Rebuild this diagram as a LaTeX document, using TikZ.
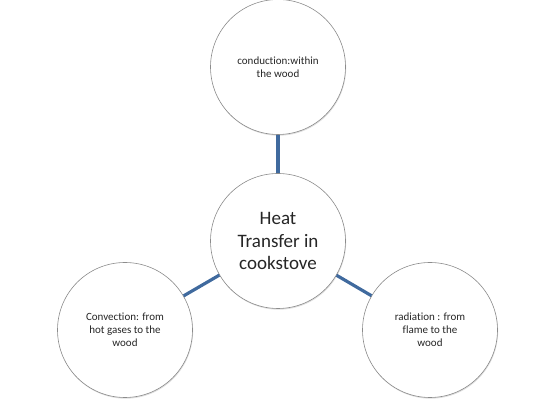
\documentclass[tikz,border=0pt]{standalone}
\usepackage{fontspec}
\setmainfont{Carlito}[Ligatures=NoCommon]
\usetikzlibrary{shapes, positioning, shadows, calc}
\definecolor{linkblue}{RGB}{64,106,158}

\begin{document}
\begin{tikzpicture}[x=1pt, y=1pt, thick]
\tikzset{topic/.style={draw=gray!90, line width=0.6pt, circle, fill=white, minimum size=135pt, inner sep=0pt, align=center, font=\fontsize{11}{13}\selectfont, text=black!85, drop shadow={opacity=0.25, shadow xshift=0.6pt, shadow yshift=-1.2pt}}, link/.style={draw=linkblue, line width=3.2pt}}
\useasboundingbox (0,0) rectangle (544,406);
\node[topic, font=\fontsize{19}{22.7}\selectfont] (C) at (278,165) {Heat\\Transfer in\\cookstove};
\node[topic] (T) at (278,339) {conduction:within\\the wood};
\node[topic] (L) at (125,76) {Convection: from\\hot gases to the\\wood};
\node[topic] (R) at (430,76) {radiation : from\\flame to the\\wood};
\draw[link] (C) -- (T); \draw[link] (C) -- (L); \draw[link] (C) -- (R);
\end{tikzpicture}
\end{document}
